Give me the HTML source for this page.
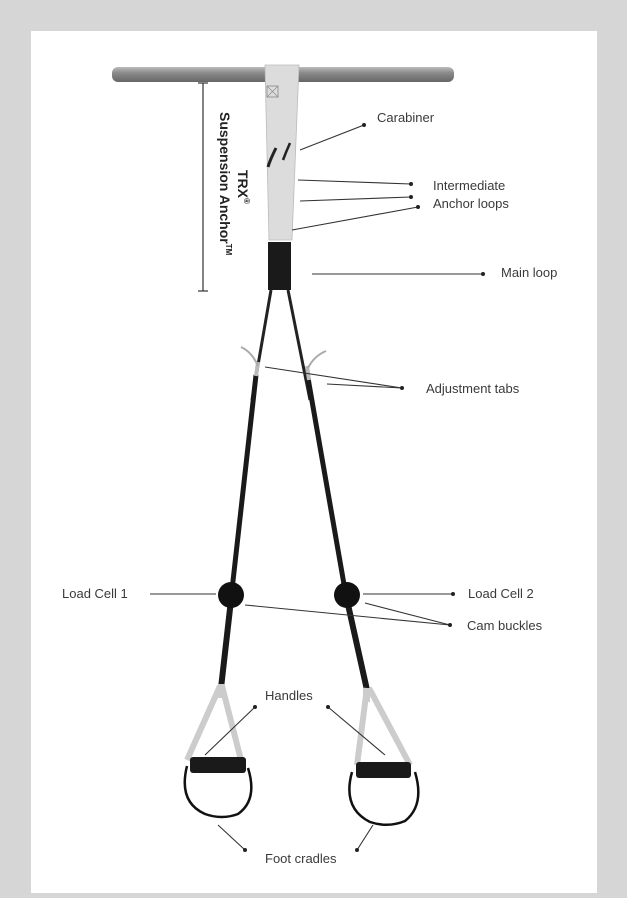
<!DOCTYPE html>
<html><head><meta charset="utf-8"><style>
html,body{margin:0;padding:0;background:#d6d6d6;}
svg{display:block}
text{font-family:"Liberation Sans",sans-serif;font-size:13px;fill:#3a3a3a}
</style></head><body>
<svg width="627" height="898" viewBox="0 0 627 898" xmlns="http://www.w3.org/2000/svg">
<defs>
<linearGradient id="bar" x1="0" y1="0" x2="0" y2="1">
<stop offset="0" stop-color="#bbb"/><stop offset="0.4" stop-color="#8a8a8a"/><stop offset="1" stop-color="#666"/>
</linearGradient>
</defs>
<rect x="0" y="0" width="627" height="898" fill="#d6d6d6"/>
<rect x="31" y="31" width="566" height="862" fill="#fff"/>
<rect x="112" y="67" width="342" height="15" rx="6" fill="url(#bar)"/>
<polygon points="265,65 299,65 292,240 269,240" fill="#dcdcdc" stroke="#bbb" stroke-width="0.8"/>
<rect x="267" y="86" width="11" height="11" fill="none" stroke="#888" stroke-width="0.8"/>
<line x1="267" y1="86" x2="278" y2="97" stroke="#888" stroke-width="0.6"/>
<line x1="278" y1="86" x2="267" y2="97" stroke="#888" stroke-width="0.6"/>
<path d="M276 148 Q270 160 268 167" stroke="#222" stroke-width="3" fill="none"/>
<path d="M290 143 Q286 152 283 160" stroke="#222" stroke-width="2.5" fill="none"/>
<rect x="268" y="242" width="23" height="48" fill="#1a1a1a"/>
<line x1="271" y1="290" x2="252" y2="400" stroke="#222" stroke-width="3"/>
<line x1="288" y1="290" x2="310" y2="400" stroke="#222" stroke-width="3"/>
<line x1="256" y1="375" x2="232" y2="590" stroke="#1a1a1a" stroke-width="5"/>
<line x1="308" y1="378" x2="345" y2="590" stroke="#1a1a1a" stroke-width="5"/>
<line x1="258" y1="362" x2="256" y2="376" stroke="#bbb" stroke-width="4"/>
<line x1="307" y1="366" x2="309" y2="380" stroke="#bbb" stroke-width="4"/>
<path d="M258 366 Q252 352 241 347" stroke="#aaa" stroke-width="2" fill="none"/>
<path d="M308 368 Q314 356 326 351" stroke="#aaa" stroke-width="2" fill="none"/>
<line x1="231" y1="600" x2="221" y2="688" stroke="#1a1a1a" stroke-width="6"/>
<line x1="347" y1="600" x2="367" y2="690" stroke="#1a1a1a" stroke-width="6"/>
<circle cx="231" cy="595" r="13" fill="#111"/>
<circle cx="347" cy="595" r="13" fill="#111"/>
<path d="M220 686 L187 760 M222 686 L241 760" stroke="#ccc" stroke-width="6" fill="none"/>
<rect x="218" y="684" width="7" height="14" fill="#ccc"/>
<path d="M367 688 L357 765 M369 688 L410 765" stroke="#ccc" stroke-width="6" fill="none"/>
<rect x="363" y="688" width="7" height="14" fill="#ccc"/>
<rect x="190" y="757" width="56" height="16" rx="3" fill="#1a1a1a"/>
<rect x="356" y="762" width="55" height="16" rx="3" fill="#1a1a1a"/>
<path d="M187 766 Q178 802 205 814 Q222 820 238 814 Q258 800 248 768" stroke="#111" stroke-width="2.5" fill="none"/>
<path d="M352 772 Q342 808 370 822 Q388 828 405 821 Q425 805 415 772" stroke="#111" stroke-width="2.5" fill="none"/>
<g stroke="#333" stroke-width="1.2">
<line x1="203" y1="83" x2="203" y2="291"/>
<line x1="198" y1="83" x2="208" y2="83"/>
<line x1="198" y1="291" x2="208" y2="291"/>
</g>
<text transform="translate(238,170) rotate(90)" font-weight="bold" style="font-size:14px;fill:#222">TRX<tspan dy="-6" style="font-size:8px">®</tspan></text>
<text transform="translate(220,112) rotate(90)" font-weight="bold" style="font-size:14px;fill:#222">Suspension Anchor<tspan dy="-6" style="font-size:8px">TM</tspan></text>
<g stroke="#333" stroke-width="1.1" fill="none">
<line x1="300" y1="150" x2="364" y2="125"/>
<line x1="298" y1="180" x2="411" y2="184"/>
<line x1="300" y1="201" x2="411" y2="197"/>
<line x1="292" y1="230" x2="418" y2="207"/>
<line x1="312" y1="274" x2="483" y2="274"/>
<line x1="265" y1="367" x2="402" y2="388"/>
<line x1="327" y1="384" x2="402" y2="388"/>
<line x1="150" y1="594" x2="216" y2="594"/>
<line x1="363" y1="594" x2="453" y2="594"/>
<line x1="245" y1="605" x2="450" y2="625"/>
<line x1="365" y1="603" x2="450" y2="625"/>
<line x1="255" y1="707" x2="205" y2="755"/>
<line x1="328" y1="707" x2="385" y2="755"/>
<line x1="218" y1="825" x2="245" y2="850"/>
<line x1="373" y1="825" x2="357" y2="850"/>
</g>
<g fill="#222">
<circle cx="364" cy="125" r="2"/><circle cx="411" cy="184" r="2"/><circle cx="411" cy="197" r="2"/><circle cx="418" cy="207" r="2"/>
<circle cx="483" cy="274" r="2"/><circle cx="402" cy="388" r="2"/><circle cx="453" cy="594" r="2"/><circle cx="450" cy="625" r="2"/>
<circle cx="255" cy="707" r="2"/><circle cx="328" cy="707" r="2"/><circle cx="245" cy="850" r="2"/><circle cx="357" cy="850" r="2"/>
</g>
<text x="377" y="122">Carabiner</text>
<text x="433" y="190">Intermediate</text>
<text x="433" y="208">Anchor loops</text>
<text x="501" y="277">Main loop</text>
<text x="426" y="393">Adjustment tabs</text>
<text x="62" y="598">Load Cell 1</text>
<text x="468" y="598">Load Cell 2</text>
<text x="467" y="630">Cam buckles</text>
<text x="265" y="700">Handles</text>
<text x="265" y="863">Foot cradles</text>
</svg>
</body></html>
